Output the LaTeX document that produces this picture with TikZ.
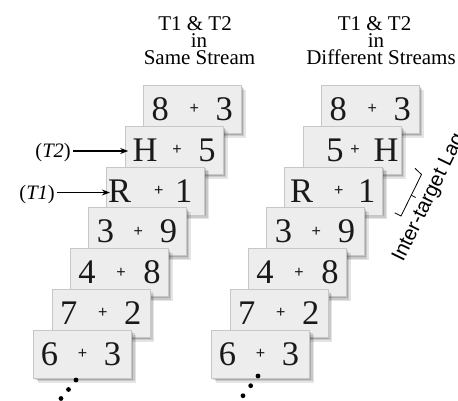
\documentclass[tikz,border=0pt]{standalone}
\usepackage{fontspec}
\setmainfont{Liberation Serif}
\setsansfont{Liberation Sans}
\usetikzlibrary{shadows,arrows.meta}
\newcommand\mycard[8]{%
  \node[card] (#1) at (#2,#3) {};
  \node[sym] (#1a) at ([xshift=#6pt]#1.center) {#4};
  \node[pls] (#1b) at ([xshift=#7pt]#1.center) {+};
  \node[sym] (#1c) at ([xshift=#8pt]#1.center) {#5};
}
\begin{document}
\begin{tikzpicture}[x=1pt,y=-1pt,
  card/.style={draw=black!22, fill=black!7, line width=0.6pt, minimum width=98pt,
    minimum height=48pt, inner sep=0pt, anchor=north west,
    general shadow={fill=black, opacity=.10, shadow xshift=4.5pt, shadow yshift=-4.5pt},
    general shadow={fill=black, opacity=.12, shadow xshift=3pt, shadow yshift=-3pt},
    general shadow={fill=black, opacity=.15, shadow xshift=1.5pt, shadow yshift=-1.5pt}},
  sym/.style={inner sep=0pt, font=\fontsize{34.5}{34.5}\selectfont, text=black!90},
  pls/.style={inner sep=0pt, font=\sffamily\fontsize{16}{16}\selectfont, text=black!90},
  head/.style={inner sep=0pt, anchor=base, font=\fontsize{21}{21}\selectfont},
  lab/.style={inner sep=0pt, anchor=base east, font=\fontsize{20.5}{20.5}\selectfont},
  dot/.style={circle, fill=black, inner sep=0pt, minimum size=4.8pt},
  arr/.style={-{Stealth[length=8pt,width=6pt]}, line width=1.1pt},
  brk/.style={line width=0.8pt}]
\useasboundingbox (0,0) rectangle (458,400);
% headers
\node[head] (h1a) at (195,30) {T1 \& T2};
\node[head] (h1b) at (199,47) {in};
\node[head] (h1c) at (199.5,64) {Same Stream};
\node[head] (h2a) at (374.5,30) {T1 \& T2};
\node[head] (h2b) at (376,47) {in};
\node[head] (h2c) at (381,64) {Different Streams};
% left stack
\mycard{L1}{143}{85}{8}{3}{-32}{2}{32}
\mycard{L2}{124.7}{125.8}{H}{5}{-29}{3}{33}
\mycard{L3}{106.4}{166.6}{R}{1}{-36}{3}{28}
\mycard{L4}{88.1}{207.4}{3}{9}{-32}{1}{31}
\mycard{L5}{69.8}{248.2}{4}{8}{-32}{2}{33}
\mycard{L6}{51.5}{289}{7}{2}{-32}{2}{32}
\mycard{L7}{33.2}{329.8}{6}{3}{-33}{0}{30}
% right stack
\mycard{R1}{321}{85}{8}{3}{-32}{2}{32}
\mycard{R2}{302.7}{125.8}{5}{H}{-17}{3}{34}
\mycard{R3}{284.4}{166.6}{R}{1}{-32}{5}{33}
\mycard{R4}{266.1}{207.4}{3}{9}{-32}{1}{31}
\mycard{R5}{247.8}{248.2}{4}{8}{-32}{2}{33}
\mycard{R6}{229.5}{289}{7}{2}{-32}{2}{32}
\mycard{R7}{211.2}{329.8}{6}{3}{-33}{0}{30}
% target labels
\node[lab] (t2) at (71,157) {(\textit{T2})};
\node[lab] (t1) at (55,199) {(\textit{T1})};
\draw[arr, shorten >=-3.5pt] ([xshift=2pt]t2.east |- 0,151) -- (L2.west |- 0,151);
\draw[arr, shorten >=-3.5pt] ([xshift=2pt]t1.east |- 0,192.5) -- (L3.west |- 0,192.5);
% lag bracket
\coordinate (b1) at (415,168.3);
\coordinate (b2) at (421.5,174.5);
\coordinate (b3) at (401,216);
\coordinate (b4) at (394.7,212.9);
\coordinate (bm) at (411.25,195.25);
\coordinate (bt) at (415.7,197.5);
\draw[brk] (b1) -- (b2) -- (b3) -- (b4);
\draw[brk] (bm) -- (bt);
\node[rotate=64, anchor=base west, inner sep=0pt, font=\sffamily\fontsize{20.5}{20.5}\selectfont] (lag) at (403,263) {Inter-target Lag};
% dots
\node[dot] (d1) at (76,380) {};
\node[dot] (d2) at (68.5,389.5) {};
\node[dot] (d3) at (61,398.5) {};
\node[dot] (e1) at (258,376) {};
\node[dot] (e2) at (250.7,385.7) {};
\node[dot] (e3) at (243,395.7) {};
\end{tikzpicture}
\end{document}
